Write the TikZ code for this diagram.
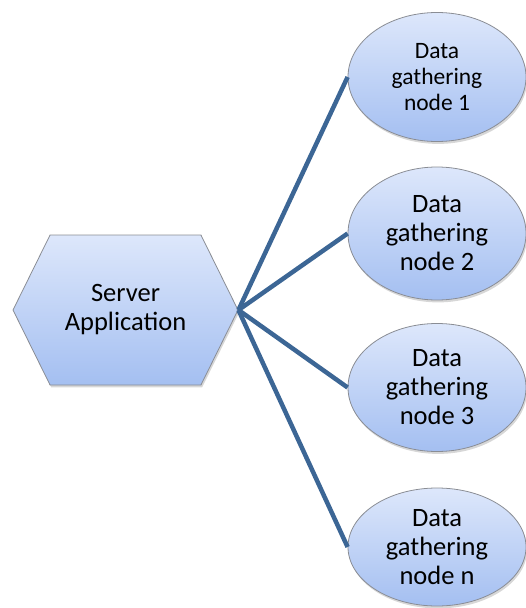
\documentclass[tikz,border=0pt]{standalone}
\usepackage{fontspec}
\setmainfont{Carlito}
\usepackage{tikz}
\usetikzlibrary{shapes.geometric,shapes.symbols,shadows}

\definecolor{shapetop}{HTML}{DDE7FB}
\definecolor{shapebot}{HTML}{A4BFF1}
\definecolor{shapeline}{HTML}{8A8D94}
\definecolor{linkblue}{HTML}{3C6695}

\begin{document}
\begin{tikzpicture}[x=1pt, y=-1pt,
    base/.style={draw=shapeline, line width=0.8pt, top color=shapetop,
      bottom color=shapebot, align=center, inner sep=0pt,
      drop shadow={shadow xshift=1.2pt, shadow yshift=-2.4pt,
        fill=black!45, opacity=0.35}},
    server/.style={base, signal, signal to=west and east,
      signal pointer angle=127.4, minimum width=225pt, minimum height=150pt,
      font=\fontsize{26.5}{29}\selectfont},
    gatherer/.style={base, ellipse, minimum width=178pt,
      font=\fontsize{26.5}{29}\selectfont},
    link/.style={draw=linkblue, line width=4.5pt}]
  \useasboundingbox (0,0) rectangle (526,608);
  \node[server] (srv) at (125.5,310) {Server\\Application};
  \node[gatherer, minimum height=129pt,
    font=\fontsize{23.5}{26}\selectfont] (dg1) at (437,77) {Data\\gathering\\node 1};
  \node[gatherer, minimum height=133pt] (dg2) at (437,233.5) {Data\\gathering\\node 2};
  \node[gatherer, minimum height=128pt] (dg3) at (437,387.5) {Data\\gathering\\node 3};
  \node[gatherer, minimum height=118pt] (dgn) at (437,547) {Data\\gathering\\node n};
  \draw[link] (srv.east) -- (dg1.west);
  \draw[link] (srv.east) -- (dg2.west);
  \draw[link] (srv.east) -- (dg3.west);
  \draw[link] (srv.east) -- (dgn.west);
\end{tikzpicture}
\end{document}
